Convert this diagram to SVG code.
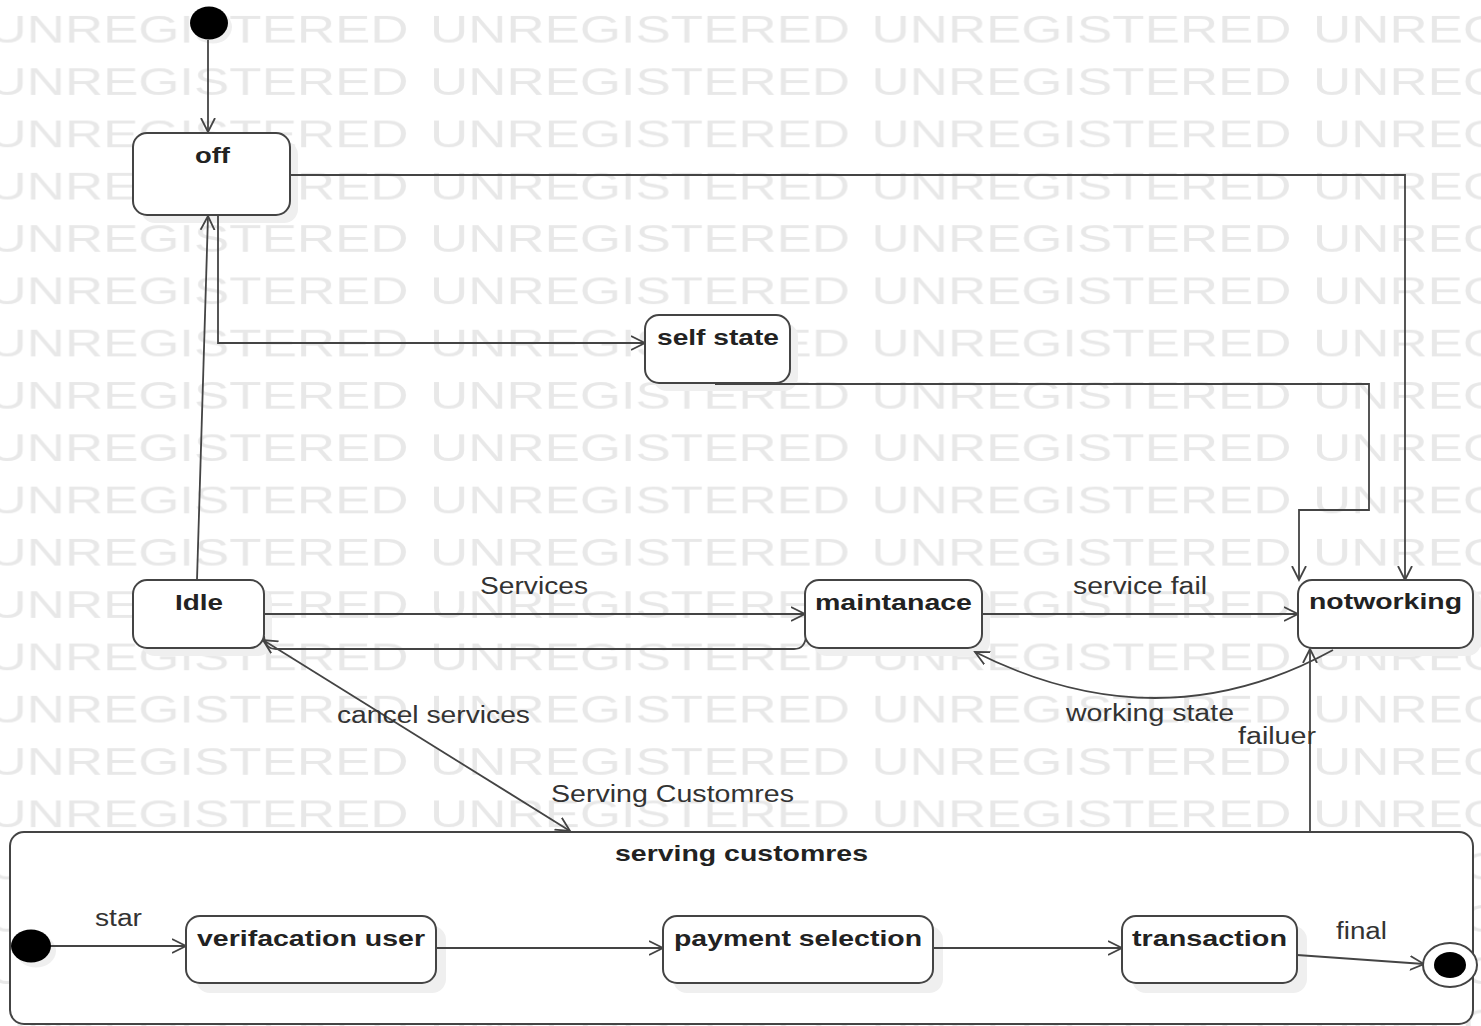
<svg xmlns="http://www.w3.org/2000/svg" width="1481" height="1026" viewBox="0 0 1481 1026">
<style>
.wm{font-family:"Liberation Sans",Arial,sans-serif;font-size:39px;fill:#e8e8e8}
.box{fill:#fff;stroke:#444;stroke-width:2}
.shadow{fill:#efefef;stroke:none}
.nl{font-family:"Liberation Sans",Arial,sans-serif;font-size:22px;font-weight:bold;fill:#222}
.el{font-family:"Liberation Sans",Arial,sans-serif;font-size:23px;fill:#333}
.c{fill:none;stroke:#444;stroke-width:1.8}
.ca{fill:none;stroke:#444;stroke-width:1.8;marker-end:url(#arr)}
</style>
<defs>
<marker id="arr" markerUnits="userSpaceOnUse" markerWidth="16" markerHeight="16" refX="14" refY="8" orient="auto-start-reverse" viewBox="0 0 16 16">
<path d="M0,1 L14,8 L0,15" fill="none" stroke="#444" stroke-width="1.8"/>
</marker>
<pattern id="wmp" patternUnits="userSpaceOnUse" x="-11.5" y="13" width="441.5" height="52.3">
<text class="wm" x="0" y="30" textLength="420" lengthAdjust="spacingAndGlyphs">UNREGISTERED</text>
</pattern>
</defs>
<rect x="0" y="0" width="1481" height="1026" fill="#fff"/>
<rect x="0" y="0" width="1481" height="1026" fill="url(#wmp)"/>

<g id="shadows">
<ellipse cx="213" cy="27" rx="19" ry="16.5" class="shadow"/>
<rect x="141" y="141" width="157" height="82" rx="14" class="shadow"/>
<rect x="653" y="323" width="145" height="68" rx="14" class="shadow"/>
<rect x="141" y="588" width="131" height="68" rx="14" class="shadow"/>
<rect x="813" y="588" width="177" height="68" rx="14" class="shadow"/>
<rect x="1306" y="588" width="175" height="68" rx="14" class="shadow"/>
</g>

<g id="connectors">
<path class="ca" d="M208,40 L208,132"/>
<path class="ca" d="M290,175 L1405,175 L1405,580"/>
<path class="ca" d="M197,580 L208,216"/>
<path class="ca" d="M218,215 L218,343 L645,343"/>
<path class="ca" d="M715,384 L1369,384 L1369,510 L1299,510 L1299,580"/>
<path class="ca" d="M264,614 L805,614"/>
<path class="c" d="M264,636 Q265,649 276,649 L794,649 Q805,649 806,636"/>
<path class="ca" d="M982,614 L1298,614"/>
<path class="ca" d="M1333,650 Q1160,745 975,652"/>
<path class="ca" d="M1310,832 L1310,649"/>
<path class="ca" style="marker-start:url(#arr)" d="M263,640 L570,831"/>
</g>

<g id="initial">
<ellipse cx="209" cy="23" rx="19" ry="16.5" fill="#000"/>
</g>

<g id="off">
<rect x="133" y="133" width="157" height="82" rx="14" class="box"/>
<text class="nl" x="195" y="163" textLength="35" lengthAdjust="spacingAndGlyphs">off</text>
</g>

<g id="self-state">
<rect x="645" y="315" width="145" height="68" rx="14" class="box"/>
<text class="nl" x="657" y="345" textLength="122" lengthAdjust="spacingAndGlyphs">self state</text>
</g>

<g id="idle">
<rect x="133" y="580" width="131" height="68" rx="14" class="box"/>
<text class="nl" x="175" y="610" textLength="48" lengthAdjust="spacingAndGlyphs">Idle</text>
</g>

<g id="maintanace">
<rect x="805" y="580" width="177" height="68" rx="14" class="box"/>
<text class="nl" x="815" y="610" textLength="157" lengthAdjust="spacingAndGlyphs">maintanace</text>
</g>

<g id="notworking">
<rect x="1298" y="580" width="175" height="68" rx="14" class="box"/>
<text class="nl" x="1309" y="609" textLength="153" lengthAdjust="spacingAndGlyphs">notworking</text>
</g>

<g id="edge-labels">
<text class="el" x="480" y="594" textLength="108" lengthAdjust="spacingAndGlyphs">Services</text>
<text class="el" x="1073" y="594" textLength="134" lengthAdjust="spacingAndGlyphs">service fail</text>
<text class="el" x="1066" y="721" textLength="168" lengthAdjust="spacingAndGlyphs">working state</text>
<text class="el" x="1238" y="744" textLength="78" lengthAdjust="spacingAndGlyphs">failuer</text>
<text class="el" x="337" y="723" textLength="193" lengthAdjust="spacingAndGlyphs">cancel services</text>
<text class="el" x="551" y="802" textLength="243" lengthAdjust="spacingAndGlyphs">Serving Customres</text>
</g>

<g id="serving-customres">
<rect x="10" y="832" width="1463" height="192" rx="14" class="box"/>
<text class="nl" x="615" y="861" textLength="253" lengthAdjust="spacingAndGlyphs">serving customres</text>
</g>

<g id="inner-shadows">
<ellipse cx="36" cy="951" rx="20" ry="16.5" class="shadow"/>
<rect x="196" y="926" width="250" height="67" rx="14" class="shadow"/>
<rect x="673" y="926" width="270" height="67" rx="14" class="shadow"/>
<rect x="1132" y="926" width="175" height="67" rx="14" class="shadow"/>
</g>

<g id="inner-connectors">
<path class="ca" d="M50,946 L186,946"/>
<path class="ca" d="M436,948 L663,948"/>
<path class="ca" d="M933,948 L1122,948"/>
<path class="ca" d="M1297,955 L1424,964"/>
<text class="el" x="95" y="926" textLength="47" lengthAdjust="spacingAndGlyphs">star</text>
<text class="el" x="1336" y="939" textLength="51" lengthAdjust="spacingAndGlyphs">final</text>
</g>

<g id="inner-initial">
<ellipse cx="31" cy="946" rx="20" ry="16.5" fill="#000"/>
</g>

<g id="verifacation-user">
<rect x="186" y="916" width="250" height="67" rx="14" class="box"/>
<text class="nl" x="197" y="946" textLength="228" lengthAdjust="spacingAndGlyphs">verifacation user</text>
</g>

<g id="payment-selection">
<rect x="663" y="916" width="270" height="67" rx="14" class="box"/>
<text class="nl" x="674" y="946" textLength="248" lengthAdjust="spacingAndGlyphs">payment selection</text>
</g>

<g id="transaction">
<rect x="1122" y="916" width="175" height="67" rx="14" class="box"/>
<text class="nl" x="1132" y="946" textLength="155" lengthAdjust="spacingAndGlyphs">transaction</text>
</g>

<g id="final-state">
<ellipse cx="1450" cy="965" rx="27" ry="22" fill="#fff" stroke="#444" stroke-width="2"/>
<ellipse cx="1450" cy="965" rx="16" ry="13" fill="#000"/>
</g>
</svg>
